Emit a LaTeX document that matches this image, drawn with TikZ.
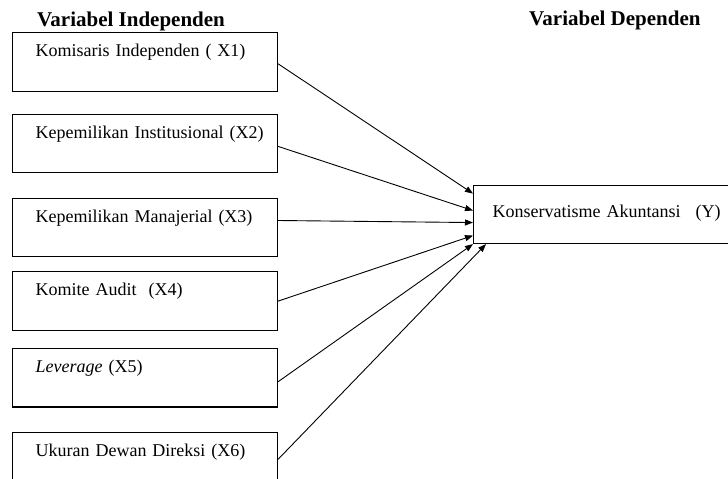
\documentclass[tikz,border=0pt]{standalone}
\usepackage{fontspec}
\setmainfont{Liberation Serif}
\usetikzlibrary{positioning, arrows.meta}

\begin{document}
\begin{tikzpicture}[
        x=1pt, y=-1pt,
        node distance = 22pt,
        head/.style  = {inner sep=0pt, anchor=base west, font=\bfseries\fontsize{21}{24}\selectfont},
        indep/.style = {draw, rectangle, line width=1.1pt, text width=265pt, inner xsep=0pt, inner ysep=0pt,
                        text height=24pt, text depth=34.5pt, align=left,
                        execute at begin node={\hspace*{23pt}}, font=\fontsize{18}{21}\selectfont},
        depbox/.style = {draw, rectangle, line width=1.1pt, text width=290pt, inner xsep=0pt, inner ysep=0pt,
                        text height=32pt, text depth=26pt, align=left,
                        execute at begin node={\hspace*{19pt}}, font=\fontsize{18}{21}\selectfont},
        arrow/.style = {-{Triangle[length=8pt, width=6pt]}, line width=0.9pt},
    ]
        \useasboundingbox (0,0) rectangle (728,479);
        \clip (0,0) rectangle (728,479);

        \node[head] (hind) at (37,26) {Variabel Independen};
        \node[head] (hdep) at (529,25) {Variabel Dependen};

        \node[indep, anchor=north west] (x1) at (12,32) {Komisaris Independen ( X1)};
        \node[indep, below=22pt of x1] (x2) {Kepemilikan Institusional (X2)};
        \node[indep, below=24.5pt of x2] (x3) {Kepemilikan Manajerial (X3)};
        \node[indep, below=14pt of x3] (x4) {Komite Audit\ \ (X4)};
        \node[indep, below=17pt of x4] (x5) {\textit{Leverage} (X5)};
        \node[indep, below=24pt of x5] (x6) {Ukuran Dewan Direksi (X6)};

        \node[depbox, anchor=north west] (y) at (473,185) {Konservatisme Akuntansi\hspace{15pt}(Y)};

        \draw[arrow] ([yshift=-2pt]x1.east) -- ([yshift=21pt]y.west);
        \draw[arrow] ([yshift=-3pt]x2.east) -- ([yshift=4pt]y.west);
        \draw[arrow] ([yshift=7pt]x3.east) -- ([yshift=-8pt]y.west);
        \draw[arrow] (x4.east) -- ([yshift=-21pt]y.west);
        \draw[arrow] ([yshift=-4pt]x5.east) -- (y.south west);
        \draw[arrow] ([yshift=2pt]x6.east) -- ([xshift=13pt]y.south west);
    \end{tikzpicture}
\end{document}
